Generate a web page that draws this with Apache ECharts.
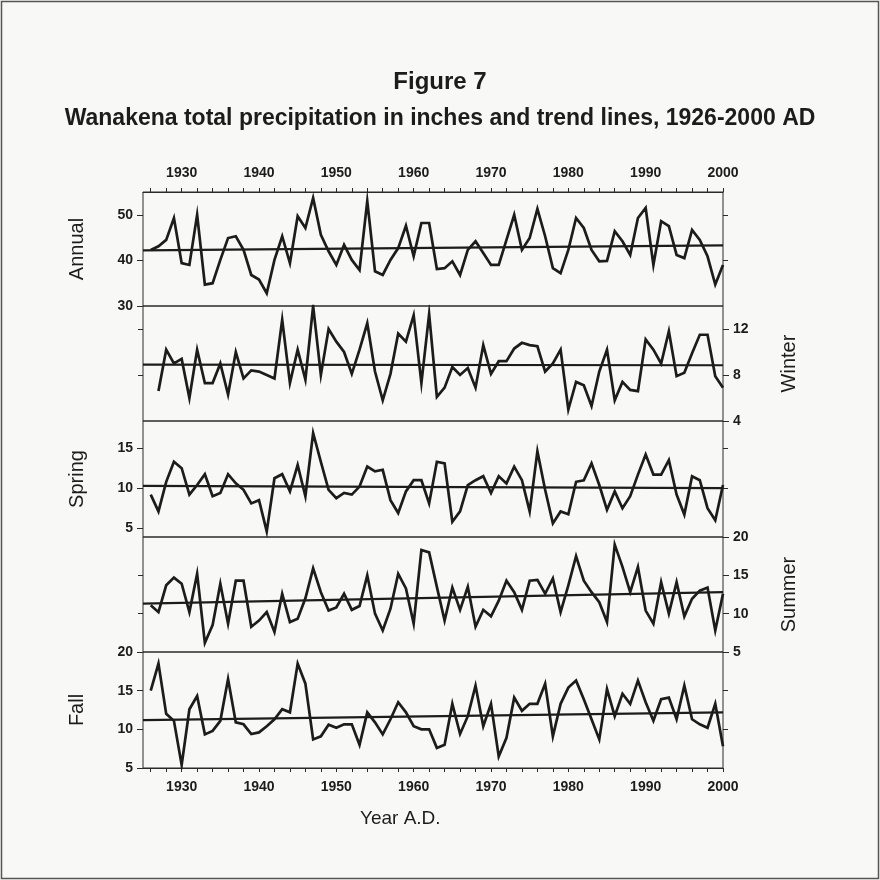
<!DOCTYPE html>
<html><head><meta charset="utf-8">
<script src="https://cdn.jsdelivr.net/npm/echarts@6/dist/echarts.min.js"></script>
<style>html,body{margin:0;padding:0;background:#f8f8f6}#c{width:880px;height:880px}</style>
</head><body><div id="c"></div><script>
const years = [1926,1927,1928,1929,1930,1931,1932,1933,1934,1935,1936,1937,1938,1939,1940,1941,1942,1943,1944,1945,1946,1947,1948,1949,1950,1951,1952,1953,1954,1955,1956,1957,1958,1959,1960,1961,1962,1963,1964,1965,1966,1967,1968,1969,1970,1971,1972,1973,1974,1975,1976,1977,1978,1979,1980,1981,1982,1983,1984,1985,1986,1987,1988,1989,1990,1991,1992,1993,1994,1995,1996,1997,1998,1999,2000];
const annual = [42.3,43.1,44.5,49.3,39.4,39.0,50.0,34.7,35.0,40.1,44.9,45.3,42.3,36.8,35.8,32.8,40.1,45.3,39.4,49.7,47.1,53.7,45.6,42.0,39.0,43.4,40.1,37.9,53.0,37.6,36.8,40.1,42.7,47.6,40.9,48.2,48.2,38.1,38.3,39.8,36.8,42.3,44.2,41.6,39.0,39.0,44.5,50.0,42.3,44.9,51.3,45.3,38.3,37.2,42.3,49.3,47.1,42.3,39.8,39.9,46.4,44.2,41.2,49.3,51.5,39.0,48.6,47.5,41.2,40.5,46.7,44.5,40.9,34.7,39.0];
const winter = [null,6.6,10.2,9.0,9.4,6.0,10.2,7.3,7.3,9.0,6.3,10.0,7.7,8.4,8.3,8.0,7.7,12.8,7.3,10.2,7.6,14.0,8.0,12.0,10.9,10.0,8.1,10.2,12.5,8.3,5.8,8.1,11.6,10.9,13.2,7.3,13.3,6.1,6.9,8.7,8.0,8.6,6.9,10.6,8.1,9.2,9.2,10.3,10.8,10.6,10.5,8.3,9.0,10.2,5.0,7.4,7.1,5.3,8.3,10.2,5.8,7.4,6.7,6.6,11.1,10.2,9.0,11.8,7.9,8.2,9.9,11.5,11.5,7.9,6.9];
const spring = [9.2,7.1,10.8,13.3,12.5,9.2,10.4,11.75,9.0,9.4,11.75,10.6,9.8,8.1,8.5,4.6,11.25,11.75,9.6,12.9,9.0,16.9,13.3,9.8,8.75,9.4,9.2,10.2,12.7,12.1,12.3,8.5,6.9,9.6,11.0,11.0,8.1,13.3,13.1,5.8,7.1,10.4,11.0,11.5,9.4,11.5,10.6,12.7,11.0,7.1,14.6,9.8,5.6,7.1,6.75,10.8,11.0,13.1,10.4,7.3,9.6,7.5,9.0,11.7,14.2,11.7,11.7,13.5,9.2,6.7,11.5,11.0,7.5,6.0,10.4];
const summer = [11.1,10.2,13.7,14.7,13.9,10.2,15.2,6.2,8.5,13.9,8.7,14.3,14.3,8.3,9.1,10.2,7.6,12.6,8.9,9.35,12.0,15.9,12.8,10.4,10.8,12.6,10.5,11.0,15.0,10.0,7.8,10.65,15.2,13.3,8.7,18.3,18.0,13.5,9.1,13.4,10.5,13.5,8.3,10.5,9.65,11.7,14.3,12.8,10.5,14.3,14.4,12.6,14.6,10.2,13.7,17.5,14.3,12.8,11.5,8.9,19.0,16.1,12.8,16.1,10.4,8.7,14.1,10.0,14.1,9.65,11.95,13.0,13.4,7.8,12.6];
const fall = [15.0,18.5,12.0,11.1,5.4,12.6,14.3,9.35,9.8,11.1,16.5,10.9,10.65,9.4,9.6,10.4,11.3,12.6,12.2,18.5,15.9,8.7,9.1,10.6,10.2,10.65,10.65,8.0,12.2,10.9,9.35,11.3,13.5,12.2,10.4,10.0,10.0,7.6,8.0,13.3,9.4,11.7,15.65,10.4,13.3,6.5,8.9,14.1,12.4,13.3,13.3,15.9,9.1,13.3,15.4,16.3,13.9,11.3,8.7,15.2,11.7,14.6,13.3,16.3,13.5,11.1,13.9,14.1,11.3,15.65,11.3,10.65,10.2,13.3,7.8];
const trendYears = [1925, 2000];
const trendAnnual = [42.2, 43.3];
const trendWinter = [8.9, 8.85];
const trendSpring = [10.3, 10.0];
const trendSummer = [11.3, 12.8];
const trendFall = [11.2, 12.2];
const yearLabels = [1930,1940,1950,1960,1970,1980,1990,2000];
const yearTicks = [1926,1928,1930,1932,1934,1936,1938,1940,1942,1944,1946,1948,1950,1952,1954,1956,1958,1960,1962,1964,1966,1968,1970,1972,1974,1976,1978,1980,1982,1984,1986,1988,1990,1992,1994,1996,1998,2000];
const annualTicks = [30,40,50], winterTicks = [4,8,12], springTicks = [5,10,15], summerTicks = [5,10,15,20], fallTicks = [5,10,15,20];

const FONT = "'Liberation Sans', Arial, sans-serif";
const INK = '#1c1c1c';
const panels = [
  {name:'Annual', vals:annual, trend:trendAnnual, min:30, max:55, ticks:annualTicks, other:[40,50], side:'left', top:192, h:114},
  {name:'Winter', vals:winter, trend:trendWinter, min:4, max:14, ticks:winterTicks, other:[8,12], side:'right', top:306, h:115},
  {name:'Spring', vals:spring, trend:trendSpring, min:3.9, max:18.4, ticks:springTicks, other:[10,15], side:'left', top:421, h:116},
  {name:'Summer', vals:summer, trend:trendSummer, min:5, max:20, ticks:summerTicks, other:[10,15], side:'right', top:537, h:115},
  {name:'Fall', vals:fall, trend:trendFall, min:5, max:20, ticks:fallTicks, other:[10,15], side:'left', top:652, h:116}
];
const grid = [], xAxis = [], yAxis = [], series = [];
panels.forEach((p, i) => {
  grid.push({left:143, right:157, top:p.top, height:p.h, show:true, borderColor:'#2a2a2a', borderWidth:1, backgroundColor:'transparent'});
  const showX = (i === 0 || i === 4);
  xAxis.push({type:'value', gridIndex:i, min:1925, max:2000, position: i === 0 ? 'top' : 'bottom',
    axisLine:{show:showX, lineStyle:{color:'#2a2a2a', width:1}},
    axisTick:{show:showX, length:4, customValues:yearTicks, lineStyle:{color:'#2a2a2a'}},
    axisLabel:{show:showX, customValues:yearLabels, formatter:v => String(v), margin:12, fontFamily:FONT, fontWeight:'bold', fontSize:14, color:INK},
    splitLine:{show:false}});
  const labelAxis = yAxis.length;
  yAxis.push({type:'value', gridIndex:i, min:p.min, max:p.max, position:p.side,
    name:p.name, nameLocation:'middle', nameGap:56,
    nameTextStyle:{fontFamily:FONT, fontSize:20, color:INK},
    axisLine:{show:false},
    axisTick:{show:true, length:6, customValues:p.ticks, lineStyle:{color:'#2a2a2a'}},
    axisLabel:{customValues:p.ticks, formatter:v => String(v), margin:10, fontFamily:FONT, fontWeight:'bold', fontSize:14, color:INK},
    splitLine:{show:false}});
  yAxis.push({type:'value', gridIndex:i, min:p.min, max:p.max, position: p.side === 'left' ? 'right' : 'left',
    axisLine:{show:false},
    axisTick:{show:true, length:5, customValues:p.other, lineStyle:{color:'#2a2a2a'}},
    axisLabel:{show:false}, splitLine:{show:false}});
  series.push({type:'line', xAxisIndex:i, yAxisIndex:labelAxis, symbol:'none', silent:true,
    data: years.map((y, k) => [y, p.vals[k]]),
    lineStyle:{color:INK, width:2.7, join:'miter'}});
  series.push({type:'line', xAxisIndex:i, yAxisIndex:labelAxis, symbol:'none', silent:true,
    data: trendYears.map((y, k) => [y, p.trend[k]]),
    lineStyle:{color:INK, width:2.2}});
});
const chart = echarts.init(document.getElementById('c'), null, {renderer:'canvas'});
chart.setOption({
  animation:false,
  backgroundColor:'#f8f8f6',
  title:[
    {text:'Figure 7', left:'center', top:65, textStyle:{fontFamily:FONT, fontWeight:'bold', fontSize:24, color:INK}},
    {text:'Wanakena total precipitation in inches and trend lines, 1926-2000 AD', left:'center', top:102, textStyle:{fontFamily:FONT, fontWeight:'bold', fontSize:23, color:INK}}
  ],
  grid, xAxis, yAxis, series,
  graphic:[
    {type:'text', left:360, top:809, style:{text:'Year A.D.', fontFamily:FONT, fontSize:19, fill:INK}},
    {type:'rect', shape:{x:1.5, y:1.5, width:877, height:877}, style:{fill:null, stroke:'#555', lineWidth:1.5}, silent:true}
  ]
});
</script></body></html>
